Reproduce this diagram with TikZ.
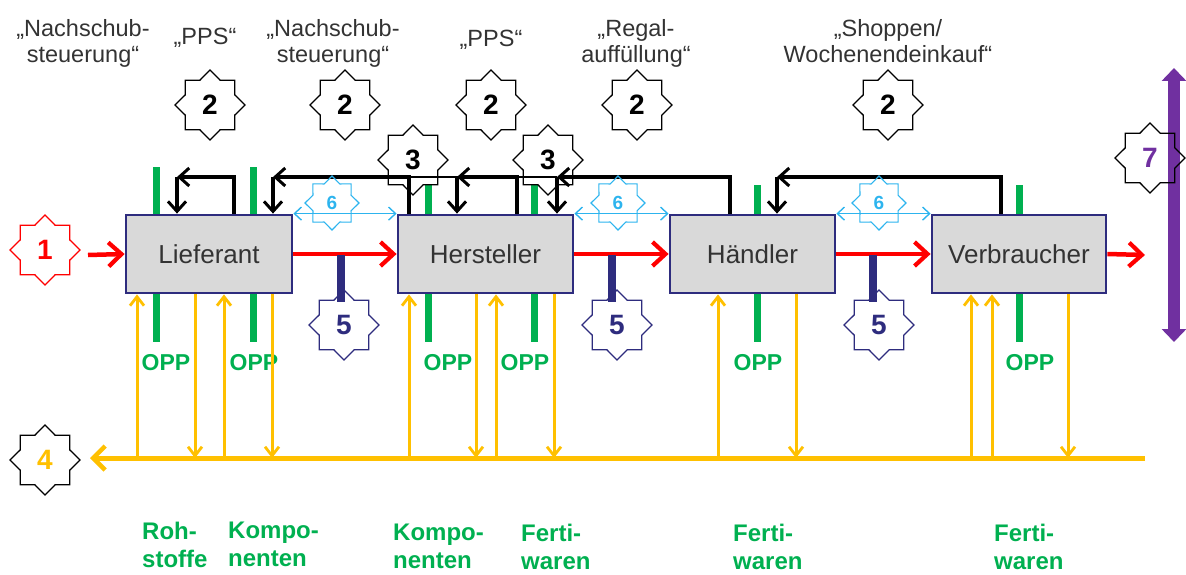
\documentclass[tikz,border=0pt]{standalone}
\usepackage{fontspec}
\setmainfont{Liberation Sans}
\usetikzlibrary{shapes.geometric,arrows.meta}
\definecolor{navy}{HTML}{2E2C7E}
\definecolor{ogreen}{HTML}{00B050}
\definecolor{oyellow}{HTML}{FFC000}
\definecolor{ored}{HTML}{FF0000}
\definecolor{ocyan}{HTML}{2DB4EE}
\definecolor{opurple}{HTML}{7030A0}
\definecolor{lgray}{HTML}{D9D9D9}
\definecolor{tgray}{HTML}{333333}
\begin{document}
\begin{tikzpicture}[x=1pt,y=-1pt,
  box/.style={draw=navy,line width=2.8pt,fill=lgray,minimum height=78pt,inner sep=0pt,
    font=\fontsize{26}{30}\selectfont,text=tgray},
  badge/.style={star,star points=8,star point ratio=1.31,minimum size=70pt,inner sep=0pt,
    line width=1.3pt,draw=#1,font=\fontsize{28}{30}\selectfont\bfseries},
  smallbadge/.style={star,star points=8,star point ratio=1.31,minimum size=54pt,inner sep=0pt,
    line width=1.1pt,draw=ocyan,text=ocyan,font=\fontsize{19}{20}\selectfont\bfseries},
  toplabel/.style={font=\fontsize{23.5}{26}\selectfont,text=tgray,align=center,inner sep=0pt},
  opp/.style={font=\fontsize{23}{26}\selectfont\bfseries,text=ogreen,inner sep=0pt,anchor=base},
  goods/.style={font=\fontsize{24}{28}\selectfont\bfseries,text=ogreen,align=left,inner sep=0pt,anchor=north west},
  redarrow/.style={ored,line width=4.5pt,-{Straight Barb[length=13pt,width=24pt,line width=4.2pt]}},
  blk/.style={black,line width=3.3pt,-{Straight Barb[length=10pt,width=18pt,line width=3pt]}},
  cyanarrow/.style={ocyan,line width=1.5pt,{Straight Barb[length=7pt,width=13pt,line width=1.4pt]}-{Straight Barb[length=7pt,width=13pt,line width=1.4pt]}},
  yup/.style={oyellow,line width=3pt,-{Straight Barb[length=9pt,width=14pt,line width=2.8pt]}},
  gbar/.style={ogreen,line width=7pt},
  nbar/.style={navy,line width=8pt},
]
\useasboundingbox (0,0) rectangle (1186,575);

% boxes
\node[box,minimum width=166pt] (L) at (209,254) {Lieferant};
\node[box,minimum width=175pt] (H) at (485.5,254) {Hersteller};
\node[box,minimum width=165pt] (D) at (752.5,254) {Händler};
\node[box,minimum width=174pt] (V) at (1019,254) {Verbraucher};

% top labels
\node[toplabel,anchor=north] (t1) at (83,19) {„Nachschub-\\steuerung“};
\node[toplabel,anchor=base] (t2) at (205,45) {„PPS“};
\node[toplabel,anchor=north] (t3) at (333,19) {„Nachschub-\\steuerung“};
\node[toplabel,anchor=base] (t4) at (491,47) {„PPS“};
\node[toplabel,anchor=north] (t5) at (636,19) {„Regal-\\auffüllung“};
\node[toplabel,anchor=north] (t6) at (888,19) {„Shoppen/\\Wochenendeinkauf“};

% stars 2
\node[badge=black] (s2a) at (210,105) {2};
\node[badge=black] (s2b) at (345,105) {2};
\node[badge=black] (s2c) at (491,105) {2};
\node[badge=black] (s2d) at (637,105) {2};
\node[badge=black] (s2e) at (888,105) {2};

% green bars top
\draw[gbar] (156,167) -- (156,0 |- L.north);
\draw[gbar] (253,167) -- (253,0 |- L.north);
\draw[gbar] (428,185) -- (428,0 |- H.north);
\draw[gbar] (534,185) -- (534,0 |- H.north);
\draw[gbar] (757,185) -- (757,0 |- D.north);
\draw[gbar] (1019,185) -- (1019,0 |- V.north);

% black feedback arrows
\draw[black,line width=1.6pt] (409,177) -- (557,177);
\draw[blk] (234,0 |- L.north) |- (177,177) coordinate (cL1);
\draw[blk] (cL1) -- (177,0 |- L.north);
\draw[blk] (409,0 |- H.north) |- (273,177) coordinate (cL2);
\draw[blk] (cL2) -- (273,0 |- L.north);
\draw[blk] (517,0 |- H.north) |- (457,177) coordinate (cH1);
\draw[blk] (cH1) -- (457,0 |- H.north);
\draw[blk] (730,0 |- D.north) |- (557,177) coordinate (cH2);
\draw[blk] (cH2) -- (557,0 |- H.north);
\draw[blk] (1001,0 |- V.north) |- (777,177) coordinate (cD1);
\draw[blk] (cD1) -- (777,0 |- D.north);

% stars 3
\node[badge=black] (s3a) at (413,160) {3};
\node[badge=black] (s3b) at (548,160) {3};

% cyan arrows and stars 6
\draw[cyanarrow] (L.north east) -- (H.north west);
\draw[cyanarrow] (H.north east) -- (D.north west);
\draw[cyanarrow] (D.north east) -- (V.north west);
\node[smallbadge] (s6a) at (332,203) {6};
\node[smallbadge] (s6b) at (618,203) {6};
\node[smallbadge] (s6c) at (879,203) {6};

% star 1 and red arrows
\node[badge=ored,text=ored] (s1) at (45,250) {1};
\coordinate (rin) at (88,255);
\coordinate (rout) at (1145,255);
\draw[redarrow] (rin) -- (L.west);
\draw[redarrow] (L.east) -- (H.west);
\draw[redarrow] (H.east) -- (D.west);
\draw[redarrow] (D.east) -- (V.west);
\draw[redarrow] (V.east) -- (rout);

% navy bars and stars 5
\draw[nbar] (341,255) -- (341,302);
\draw[nbar] (612,255) -- (612,302);
\draw[nbar] (873,255) -- (873,302);
\node[badge=navy,text=navy] (s5a) at (344,325) {5};
\node[badge=navy,text=navy] (s5b) at (617,325) {5};
\node[badge=navy,text=navy] (s5c) at (879,325) {5};

% green bars bottom and OPP
\draw[gbar] (156,0 |- L.south) -- (156,342);
\draw[gbar] (253,0 |- L.south) -- (253,342);
\draw[gbar] (428,0 |- H.south) -- (428,342);
\draw[gbar] (534,0 |- H.south) -- (534,342);
\draw[gbar] (757,0 |- D.south) -- (757,342);
\draw[gbar] (1019,0 |- V.south) -- (1019,342);
\node[opp] (o1) at (166,370) {OPP};
\node[opp] (o2) at (254,370) {OPP};
\node[opp] (o3) at (448,370) {OPP};
\node[opp] (o4) at (525,370) {OPP};
\node[opp] (o5) at (758,370) {OPP};
\node[opp] (o6) at (1030,370) {OPP};

% yellow line
\coordinate (yr) at (1145,458);
\coordinate (yl) at (90,458);
\draw[oyellow,line width=5pt,-{Straight Barb[length=12pt,width=24pt,line width=4.5pt]}] (yr) -- (yl);
\node[badge=black,text=oyellow] (s4) at (45,460) {4};

% yellow verticals: up arrows (to boxes)
\draw[yup] (137,458) -- (137,0 |- L.south);
\draw[yup] (224,458) -- (224,0 |- L.south);
\draw[yup] (409,458) -- (409,0 |- H.south);
\draw[yup] (496,458) -- (496,0 |- H.south);
\draw[yup] (718,458) -- (718,0 |- D.south);
\draw[yup] (971,458) -- (971,0 |- V.south);
\draw[yup] (992,458) -- (992,0 |- V.south);
% down arrows (to line)
\draw[yup] (195,0 |- L.south) -- (195,458);
\draw[yup] (272,0 |- L.south) -- (272,458);
\draw[yup] (476,0 |- H.south) -- (476,458);
\draw[yup] (554,0 |- H.south) -- (554,458);
\draw[yup] (796,0 |- D.south) -- (796,458);
\draw[yup] (1068,0 |- V.south) -- (1068,458);

% purple arrow and star 7
\coordinate (pt) at (1174,68);
\coordinate (pb) at (1174,342);
\draw[opurple,line width=12pt,{Triangle[length=13pt,width=24pt]}-{Triangle[length=13pt,width=24pt]}] (pb) -- (pt);
\node[badge=black,text=opurple] (s7) at (1150,158) {7};

% goods labels
\node[goods] (g1) at (142,522) {Roh-\\stoffe};
\node[goods] (g2) at (228,522) {Kompo-\\nenten};
\node[goods] (g3) at (393,524) {Kompo-\\nenten};
\node[goods] (g4) at (521,524) {Ferti-\\waren};
\node[goods] (g5) at (733,524) {Ferti-\\waren};
\node[goods] (g6) at (994,524) {Ferti-\\waren};
\end{tikzpicture}
\end{document}
